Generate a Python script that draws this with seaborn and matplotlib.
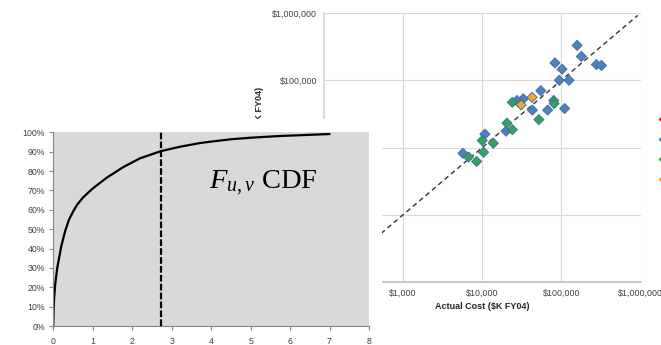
import pandas as pd
import matplotlib
matplotlib.use('Agg')
import matplotlib.pyplot as plt
import seaborn as sns
from matplotlib.patches import Rectangle
from matplotlib.lines import Line2D
from matplotlib.ticker import FuncFormatter, FixedLocator, NullLocator

# --- Scatter data: actual vs estimated cost ($K FY04) ---
blue_actual = [158000, 179000, 83000, 102000, 277000, 321000, 94000, 125000, 55000,
               33000, 27500, 43000, 67000, 110000, 20000, 10800, 5700]
blue_estimate = [330000, 226000, 181000, 146000, 171000, 166000, 100000, 100000, 70000,
                 53000, 50000, 36000, 36000, 38000, 17500, 15800, 8200]
green_actual = [24000, 80000, 81000, 52000, 20500, 24000, 10000, 13800, 10400, 6700, 8500]
green_estimate = [47000, 50000, 45000, 26000, 23000, 18400, 12700, 11600, 8500, 7200, 6200]
orange_actual = [42600, 31000]
orange_estimate = [55700, 43000]
parity_range = [100, 920000]
cost_ticks = [100, 1000, 10000, 100000, 1000000]
series_names = ['Series A', 'Series B', 'Series C', 'Series D']
series_colors = ['#FF0000', '#4F81BD', '#2EA55A', '#F5A623']

# --- CDF data ---
cdf_x = [0, 0.005, 0.02, 0.05, 0.1, 0.2, 0.3, 0.4, 0.5, 0.6, 0.76, 1.0, 1.35, 1.77,
         2.19, 2.73, 3.2, 3.7, 4.0, 4.5, 5.0, 5.75, 6.5, 7.0]
cdf_y = [0, 0.07, 0.14, 0.22, 0.30, 0.41, 0.49, 0.55, 0.59, 0.625, 0.665, 0.71, 0.765, 0.82,
         0.865, 0.903, 0.925, 0.944, 0.952, 0.964, 0.972, 0.981, 0.987, 0.991]
critical_x = 2.73
cdf_xticks = [0, 1, 2, 3, 4, 5, 6, 7, 8]
cdf_yticks = [0, 0.1, 0.2, 0.3, 0.4, 0.5, 0.6, 0.7, 0.8, 0.9, 1.0]

sns.set_theme(style='white')
plt.rcParams['font.family'] = ['Liberation Sans', 'DejaVu Sans']
plt.rcParams['mathtext.fontset'] = 'custom'
plt.rcParams['mathtext.rm'] = 'Liberation Serif'
plt.rcParams['mathtext.it'] = 'Liberation Serif:italic'

W, H = 661, 345
fig = plt.figure(figsize=(W / 100, H / 100), dpi=100)
fig.patch.set_facecolor('white')

def frac(x0, y0, x1, y1):
    return [x0 / W, 1 - y1 / H, (x1 - x0) / W, (y1 - y0) / H]

# --- Scatter (background panel) ---
ax = fig.add_axes(frac(324, 13, 640.5, 282), zorder=0)
df = pd.DataFrame({
    'actual': blue_actual + green_actual + orange_actual,
    'estimate': blue_estimate + green_estimate + orange_estimate,
    'group': ['B'] * len(blue_actual) + ['C'] * len(green_actual) + ['D'] * len(orange_actual),
})
ax.plot(parity_range, parity_range, color='#333333', lw=1.0, dashes=(3.5, 2.5), zorder=2)
sns.scatterplot(data=df, x='actual', y='estimate', hue='group',
                palette={'B': series_colors[1], 'C': series_colors[2], 'D': series_colors[3]},
                marker='D', s=26, edgecolor='#41719C', linewidth=0.7, legend=False,
                ax=ax, zorder=3)
ax.set_xscale('log')
ax.set_yscale('log')
ax.set_xlim(cost_ticks[0], cost_ticks[-1])
ax.set_ylim(cost_ticks[0], cost_ticks[-1])
money = FuncFormatter(lambda v, p: f"${v:,.0f}")
for axis in (ax.xaxis, ax.yaxis):
    axis.set_major_locator(FixedLocator(cost_ticks))
    axis.set_minor_locator(NullLocator())
    axis.set_major_formatter(money)
ax.grid(True, color='#D9D9D9', lw=0.8)
ax.tick_params(axis='both', length=0, labelsize=6.4, colors='#404040', pad=5)
for side in ('top', 'right'):
    ax.spines[side].set_visible(False)
ax.spines['left'].set_color('#D9D9D9')
ax.spines['bottom'].set_color('#BFBFBF')
ax.set_xlabel('Actual Cost ($K FY04)', fontsize=6.5, fontweight='bold', color='#262626', labelpad=3)
ax.set_ylabel('Estimated Cost ($K FY04)', fontsize=6.5, fontweight='bold', color='#262626')
ax.yaxis.set_label_coords(-0.188, 0.52)

handles = [Line2D([], [], ls='none', marker='D', markersize=3, color=c, markeredgewidth=0)
           for c in series_colors]
fig.legend(handles, series_names, loc='upper left', bbox_to_anchor=(657 / W, 1 - 114 / H),
           frameon=False, fontsize=7, handlelength=0.8, borderpad=0, borderaxespad=0,
           labelspacing=1.05)

# --- CDF panel (on top) ---
fig.add_artist(Rectangle((0, 0), 382 / W, (H - 119) / H, transform=fig.transFigure,
                         facecolor='white', edgecolor='none', zorder=1))
cx = fig.add_axes(frac(53.3, 132.3, 369, 326), zorder=2)
cx.set_facecolor('#D9D9D9')
sns.lineplot(x=cdf_x, y=cdf_y, color='black', lw=1.6, ax=cx)
cx.axvline(critical_x, color='black', lw=1.6, dashes=(3, 1))
cx.set_xlim(0, 8)
cx.set_ylim(0, 1)
cx.set_xticks(cdf_xticks)
cx.set_yticks(cdf_yticks)
cx.yaxis.set_major_formatter(FuncFormatter(lambda v, p: f"{v:.0%}"))
cx.tick_params(axis='both', length=3, width=0.8, color='#868686', labelsize=6.3,
               labelcolor='#404040', direction='out')
cx.tick_params(axis='x', pad=5)
cx.tick_params(axis='y', pad=3)
cx.tick_params(left=True, bottom=True)
for side in ('top', 'right'):
    cx.spines[side].set_visible(False)
for side in ('left', 'bottom'):
    cx.spines[side].set_color('#868686')
    cx.spines[side].set_linewidth(0.8)
cx.text(3.94, 0.711, r'$F_{u,v}$ CDF', fontsize=20.5, family='Liberation Serif',
        va='baseline', ha='left', color='black')

fig.savefig('out.png', dpi=100)
